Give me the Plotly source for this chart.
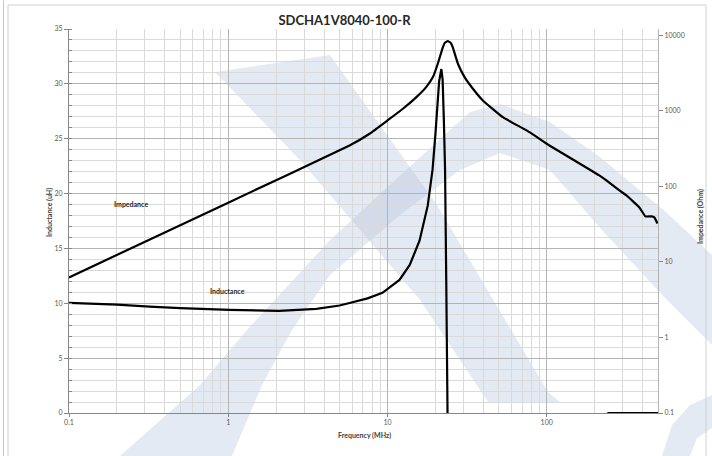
import plotly.graph_objects as go

# ---------------- data ----------------
imp_freq = [0.1, 1.0, 5.78, 7.72, 10.0, 12.5, 15.2, 17.5, 19.3, 20.7, 22.3, 22.9, 23.9, 25.0, 25.7,
            27.7, 30.5, 34.4, 39.7, 53.0, 78.0, 104.0, 149.5, 214.0, 237.0, 286.0, 317.0, 382.0,
            417.0, 455.0, 474.0, 496.0]
imp_ohm = [6.24, 61.0, 349.0, 499.0, 748.0, 1069.0, 1524.0, 2066.0, 2805.0, 4217.0, 6998.0, 7960.0,
           8405.0, 7960.0, 6998.0, 4217.0, 2805.0, 1968.0, 1377.0, 828.0, 524.0, 349.0, 221.0, 140.0,
           120.0, 88.5, 76.0, 52.7, 40.1, 40.1, 39.0, 32.4]

ind_freq = [0.1, 0.156, 0.2, 0.321, 0.5, 1.02, 2.09, 3.58, 5.0, 5.78, 7.5, 9.3, 11.9, 13.8, 15.9,
            17.9, 18.6, 19.2, 20.0, 20.7, 21.1, 21.8, 22.2, 22.6, 23.0, 23.4, 23.8, 24.2, 30.0,
            100.0, 244.0, 500.0]
ind_uh = [10.03, 9.94, 9.87, 9.70, 9.55, 9.40, 9.30, 9.49, 9.80, 10.03, 10.45, 10.95, 12.13, 13.5,
          15.7, 18.9, 20.7, 22.2, 25.4, 28.2, 30.2, 31.35, 30.4, 26.7, 22.2, 12.0, 0.0, -10.0, -30.0,
          -5.0, 0.0, 0.0]

x_ticks = [0.1, 1, 10, 100]
x_ticktext = ["0.1", "1", "10", "100"]
x_minor = [m * d for d in (0.1, 1, 10, 100) for m in range(2, 10) if m * d <= 500]
imp_ticks = [0.1, 1, 10, 100, 1000, 10000]
imp_ticktext = ["0.1", "1", "10", "100", "1000", "10000"]

title_text = "SDCHA1V8040-100-R"

# ---------------- layout geometry ----------------
W, H = 712, 456
ML, MR, MT, MB = 69, 54, 29, 43
PW, PH = W - ML - MR, H - MT - MB


def px(x):
    return (x - ML) / PW


def py(y):
    return (H - MB - y) / PH


def path(points):
    return "M " + " L ".join(f"{px(a):.5f},{py(b):.5f}" for a, b in points) + " Z"


WM = "rgba(165,185,218,0.30)"
shapes = []
# watermark (light blue logo pieces, approximate)
for poly in [
    # diagonal stroke
    [(215, 72), (330, 55), (437, 205), (548, 392), (560, 402), (488, 402), (420, 300), (300, 160)],
    # big arch
    [(120, 456), (200, 385), (247, 330), (330, 240), (417, 160), (470, 112), (500, 104), (550, 122),
     (600, 157), (667, 213), (712, 255), (712, 345), (667, 300), (600, 228), (550, 170), (500, 153),
     (460, 170), (400, 215), (330, 275), (292, 330), (262, 385), (232, 456)],
    # partial arc at bottom right
    [(712, 395), (690, 405), (672, 425), (662, 456), (690, 456), (697, 438), (712, 428)],
]:
    shapes.append(dict(type="path", path=path(poly), xref="paper", yref="paper",
                       fillcolor=WM, line=dict(width=0), layer="between"))
# frame lines
shapes.append(dict(type="rect", xref="paper", yref="paper", x0=px(8), x1=px(706), y0=py(470), y1=py(5),
                   line=dict(color="#d0d0d0", width=1), fillcolor="rgba(0,0,0,0)", layer="below"))
shapes.append(dict(type="line", xref="paper", yref="paper", x0=px(3.5), x1=px(3.5), y0=py(470), y1=py(0),
                   line=dict(color="#c8c8c8", width=1), layer="below"))

fig = go.Figure()
fig.add_trace(go.Scatter(x=imp_freq, y=imp_ohm, yaxis="y2", mode="lines",
                         line=dict(color="black", width=2.2, shape="spline", smoothing=0.3),
                         showlegend=False, hoverinfo="skip"))
fig.add_trace(go.Scatter(x=ind_freq, y=ind_uh, mode="lines",
                         line=dict(color="black", width=2.2),
                         showlegend=False, hoverinfo="skip"))

font = "Lato, 'Open Sans', Arial, sans-serif"
tickfont = dict(family=font, size=7, color="#595959")


def ann(text, x, y, angle=0, color="#404040"):
    return dict(text=text, x=px(x), y=py(y), xref="paper", yref="paper", xanchor="center",
                yanchor="middle", showarrow=False, textangle=angle,
                font=dict(family=font, size=7, color=color))


fig.update_layout(
    width=W, height=H,
    margin=dict(l=ML, r=MR, t=MT, b=MB),
    paper_bgcolor="white", plot_bgcolor="rgba(0,0,0,0)",
    title=dict(text="<b>" + title_text + "</b>", x=344.5 / W, xref="container", xanchor="center",
               y=1 - 20.5 / H, yref="container", yanchor="middle",
               font=dict(family=font, size=13, color="#262626")),
    xaxis=dict(type="log", range=[-1, 2.699], tickvals=x_ticks, ticktext=x_ticktext,
               showgrid=True, gridcolor="#b4b4b4", gridwidth=1,
               minor=dict(tickvals=x_minor, showgrid=True, gridcolor="#dadada", gridwidth=1, ticks=""),
               ticks="outside", ticklen=3, tickcolor="#868686",
               showline=True, linecolor="#868686", linewidth=1,
               tickfont=tickfont, zeroline=False),
    yaxis=dict(range=[0, 35], dtick=5, tick0=0,
               showgrid=True, gridcolor="#b4b4b4", gridwidth=1,
               minor=dict(dtick=1, showgrid=True, gridcolor="#dadada", gridwidth=1,
                          ticks="inside", ticklen=3, tickcolor="#868686"),
               ticks="outside", ticklen=4, tickcolor="#868686",
               showline=True, linecolor="#868686", linewidth=1,
               tickfont=tickfont, zeroline=False),
    yaxis2=dict(type="log", range=[-1, 4.085], overlaying="y", side="right",
                tickvals=imp_ticks, ticktext=imp_ticktext, showgrid=False,
                ticks="outside", ticklen=4, tickcolor="#868686",
                showline=True, linecolor="#b4b4b4", linewidth=1,
                tickfont=tickfont, zeroline=False),
    shapes=shapes,
    annotations=[
        ann("<b>Frequency (MHz)</b>", 364, 435),
        ann("<b>Inductance (uH)</b>", 49, 213, -90),
        ann("<b>Impedance (Ohm)</b>", 700, 217, -90),
        ann("<b>Impedance</b>", 131, 204, 0, "#262626"),
        ann("<b>Inductance</b>", 227, 291, 0, "#262626"),
    ],
)

fig.write_html("out.html", config={"displayModeBar": False},
               post_script="document.body.style.margin='0px';document.body.style.padding='0px';"
                           "document.documentElement.style.overflow='hidden';")
